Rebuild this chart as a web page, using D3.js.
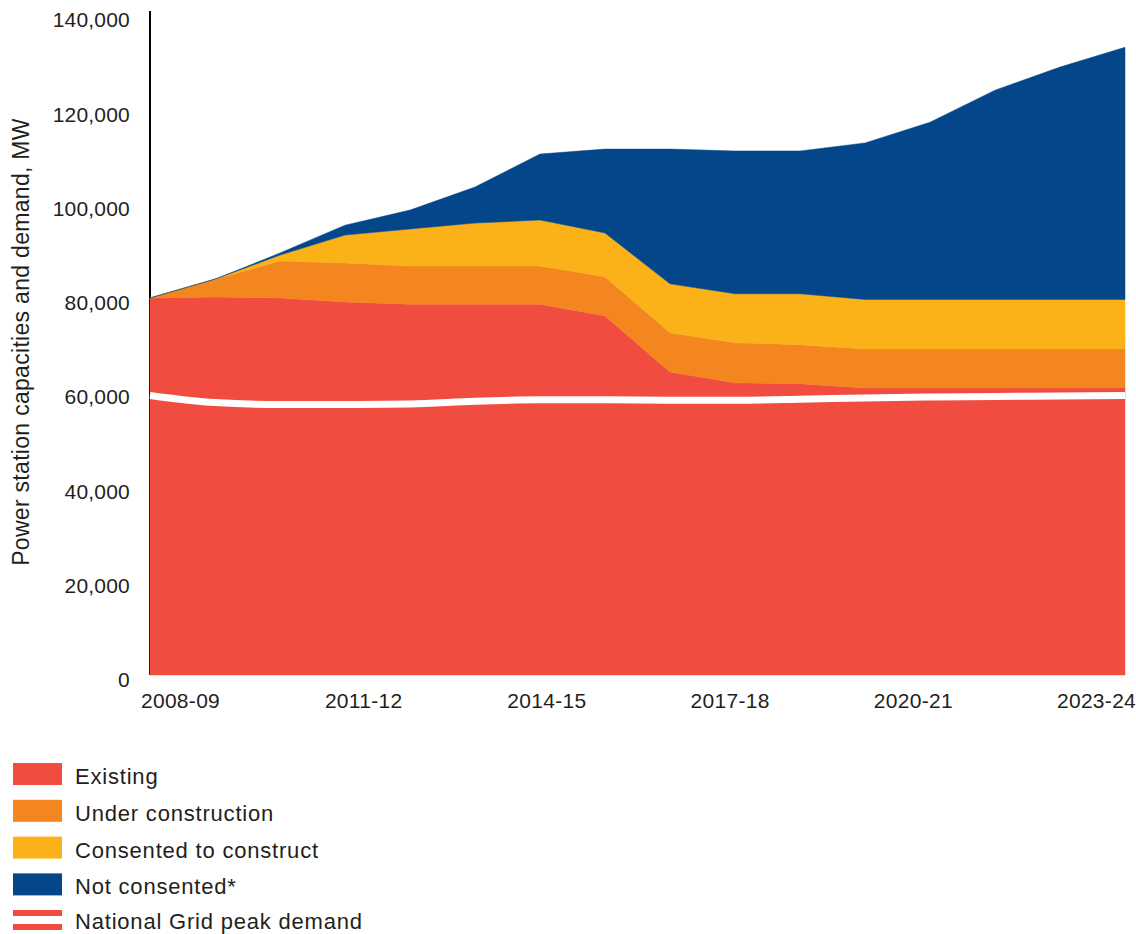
<!DOCTYPE html>
<html>
<head>
<meta charset="utf-8">
<script src="https://cdn.jsdelivr.net/npm/d3@7"></script>
<style>
  body { margin: 0; background: #fff; }
  text { font-family: "Liberation Sans", Arial, sans-serif; fill: #231f20; }
</style>
</head>
<body>
<div id="chart"></div>
<script>
// Chart data
var years = ["2008-09", "2009-10", "2010-11", "2011-12", "2012-13", "2013-14", "2014-15", "2015-16",
  "2016-17", "2017-18", "2018-19", "2019-20", "2020-21", "2021-22", "2022-23", "2023-24"];
var tickYears = ["2008-09", "2011-12", "2014-15", "2017-18", "2020-21", "2023-24"];
var existing = [80000, 80200, 80000, 79150, 78700, 78700, 78700, 76200, 64300, 62000, 61800, 60900, 60900, 60900, 60900, 60900];
var underConstruction = [0, 3800, 7850, 8300, 8100, 8100, 8100, 8300, 8300, 8500, 8300, 8300, 8300, 8300, 8300, 8300];
var consented = [0, 0, 1250, 5900, 7850, 9100, 9750, 9300, 10400, 10400, 10800, 10500, 10500, 10500, 10500, 10500];
var notConsented = [0, 0, 450, 2100, 4000, 7650, 14000, 17800, 28600, 30300, 30300, 33200, 37600, 44400, 49300, 53500];
var peakDemand = [59300, 57800, 57400, 57400, 57500, 58100, 58400, 58400, 58300, 58300, 58500, 58800, 59000, 59100, 59200, 59300];

var seriesNames = ["Existing", "Under construction", "Consented to construct", "Not consented*"];
var seriesKeys = ["existing", "underConstruction", "consented", "notConsented"];
var colors = ["#f04c40", "#f48620", "#fbb118", "#03478a"];

var svgWidth = 1136;
var svgHeight = 934;

var svg = d3.select("#chart")
  .append("svg")
  .attr("width", svgWidth)
  .attr("height", svgHeight);

// build rows for the stack
var rows = years.map(function(y, i) {
  return {
    year: y,
    existing: existing[i],
    underConstruction: underConstruction[i],
    consented: consented[i],
    notConsented: notConsented[i],
    demand: peakDemand[i]
  };
});

var xScale = d3.scalePoint()
  .domain(years)
  .range([150, 1125]);

var yScale = d3.scaleLinear()
  .domain([0, 140000])
  .range([675, 15.25]);

// y axis line
svg.append("line")
  .attr("x1", 150).attr("x2", 150)
  .attr("y1", 11).attr("y2", 675)
  .attr("stroke", "#000")
  .attr("stroke-width", 2);

// stacked areas
var stack = d3.stack().keys(seriesKeys);
var stacked = stack(rows);

var area = d3.area()
  .x(function(d) { return xScale(d.data.year); })
  .y0(function(d) { return yScale(d[0]); })
  .y1(function(d) { return yScale(d[1]); });

svg.append("g")
  .selectAll("path")
  .data(stacked)
  .enter()
  .append("path")
  .attr("d", area)
  .attr("fill", function(d, i) { return colors[i]; })
  .attr("stroke", function(d, i) { return colors[i]; })
  .attr("stroke-width", 0.5);

// peak demand line (white)
var demandLine = d3.line()
  .x(function(d) { return xScale(d.year); })
  .y(function(d) { return yScale(d.demand); })
  .curve(d3.curveMonotoneX);

svg.append("path")
  .datum(rows)
  .attr("d", demandLine)
  .attr("fill", "none")
  .attr("stroke", "#fff")
  .attr("stroke-width", 7);

// y tick labels
var leftAxis = d3.axisLeft(yScale)
  .tickValues(d3.range(0, 140001, 20000))
  .tickFormat(d3.format(","))
  .tickSize(0)
  .tickPadding(20);

var yAxisG = svg.append("g")
  .attr("transform", "translate(150,5)")
  .call(leftAxis);
yAxisG.select(".domain").remove();
yAxisG.selectAll("text")
  .style("font-size", "21px")
  .style("font-family", "Liberation Sans, Arial, sans-serif")
  .style("letter-spacing", "0.2px")
  .attr("fill", "#231f20");

// x tick labels (evenly spread across the bottom)
var tickScale = d3.scalePoint()
  .domain(tickYears)
  .range([180, 1096]);

var bottomAxis = d3.axisBottom(tickScale)
  .tickSize(0)
  .tickPadding(0);

var xAxisG = svg.append("g")
  .attr("transform", "translate(0,693)")
  .call(bottomAxis);
xAxisG.select(".domain").remove();
xAxisG.selectAll("text")
  .style("font-size", "21px")
  .style("font-family", "Liberation Sans, Arial, sans-serif")
  .style("letter-spacing", "0.3px")
  .attr("fill", "#231f20");

// y axis title
svg.append("text")
  .attr("transform", "translate(29,342) rotate(-90)")
  .attr("text-anchor", "middle")
  .style("font-size", "23px")
  .style("letter-spacing", "0.3px")
  .text("Power station capacities and demand, MW");

// legend
var legend = svg.append("g");
seriesNames.forEach(function(name, i) {
  var y0 = 763 + i * 36.8;
  legend.append("rect")
    .attr("x", 13).attr("y", y0)
    .attr("width", 49).attr("height", 22)
    .attr("fill", colors[i]);
  legend.append("text")
    .attr("x", 75).attr("y", y0 + 21)
    .style("font-size", "22px")
    .style("letter-spacing", "0.8px")
    .text(name);
});
legend.append("rect")
  .attr("x", 13).attr("y", 910).attr("width", 49).attr("height", 6)
  .attr("fill", colors[0]);
legend.append("rect")
  .attr("x", 13).attr("y", 924).attr("width", 49).attr("height", 6)
  .attr("fill", colors[0]);
legend.append("text")
  .attr("x", 75).attr("y", 929)
  .style("font-size", "22px")
  .style("letter-spacing", "0.8px")
  .text("National Grid peak demand");
</script>
</body>
</html>
